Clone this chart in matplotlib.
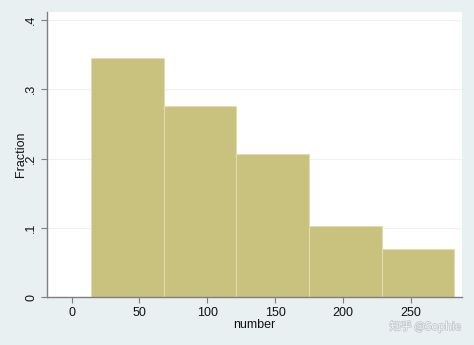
import matplotlib
matplotlib.use("Agg")
import matplotlib.pyplot as plt
import matplotlib.patheffects as pe
import numpy as np

# Data
bin_start = 14.2
bin_width = 53.6
fractions = [0.345, 0.276, 0.207, 0.103, 0.069]
x_ticks = [0, 50, 100, 150, 200, 250]
x_tick_labels = ["0", "50", "100", "150", "200", "250"]
y_ticks = [0, 0.1, 0.2, 0.3, 0.4]
y_tick_labels = ["0", ".1", ".2", ".3", ".4"]

plt.rcParams['font.family'] = ['Liberation Sans', 'DejaVu Sans']

fig = plt.figure(figsize=(4.74, 3.45), dpi=100)
fig.patch.set_facecolor('#E9F0F2')
ax = fig.add_axes([47/474, 1 - 297.3/345, (462 - 47)/474, (297.3 - 12)/345])
ax.set_facecolor('white')

edges = bin_start + bin_width * np.arange(len(fractions))
ax.bar(edges, fractions, width=bin_width, align='edge', color='#C9C17E',
       edgecolor='#E3DCB0', linewidth=0.8, zorder=2)

ax.set_xlim(-18.2, 287.8)
ax.set_ylim(0, 0.4115)
ax.set_xticks(x_ticks)
ax.set_xticklabels(x_tick_labels)
ax.set_yticks(y_ticks)
ax.set_yticklabels(y_tick_labels, rotation=90, va='center')

for y in y_ticks[1:]:
    ax.axhline(y, color='#EEF2F3', linewidth=0.8, zorder=1)

for s in ['top', 'right']:
    ax.spines[s].set_visible(False)
for s in ['left', 'bottom']:
    ax.spines[s].set_color('#7f7f7f')
    ax.spines[s].set_linewidth(1.0)

ax.tick_params(axis='both', direction='out', length=4, width=0.8,
               color='#7f7f7f', labelsize=9, labelcolor='#111111', pad=3)

ax.set_xlabel('number', fontsize=9, color='#111111', labelpad=0)
ax.set_ylabel('Fraction', fontsize=9, color='#111111', labelpad=-1)

fig.text(0.973, 0.054, '知乎 @Sophie', ha='right', va='center', fontsize=8,
         color='#F4F7F8', family=['Noto Sans CJK SC', 'DejaVu Sans'],
         path_effects=[pe.withStroke(linewidth=1.0, foreground='#BCC4C9')])

fig.savefig('out.png', dpi=100, facecolor=fig.get_facecolor())
